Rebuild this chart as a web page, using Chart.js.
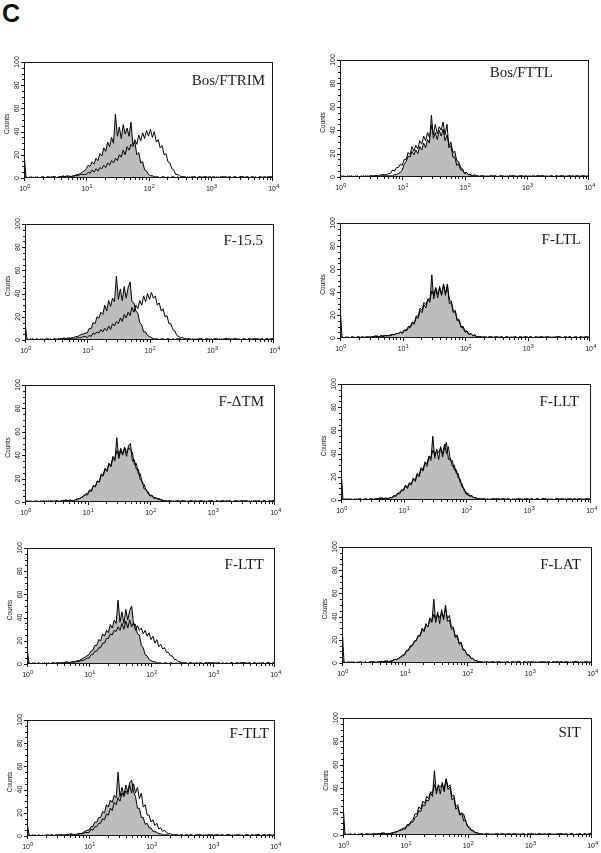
<!DOCTYPE html>
<html>
<head>
<meta charset="utf-8">
<script src="https://cdn.jsdelivr.net/npm/chart.js@4.4.1/dist/chart.umd.min.js"></script>
<style>
  body { margin: 0; background: #fff; width: 601px; height: 853px; position: relative; overflow: hidden; }
  #letter { position: absolute; left: 2px; top: 1px; font: bold 25px/25px "Liberation Sans", Arial, sans-serif; color: #111; }
  canvas { position: absolute; display: block; }
</style>
</head>
<body>
<div id="letter">C</div>
<script>
// 32 channels per decade, from 10^0 to 10^4 (129 channels)
const CH_PER_DECADE = 32;
const N_CH = 129;

const yTicks = [0, 20, 40, 60, 80, 100];
const yMinorStep = 5;
const xDecades = [0, 1, 2, 3, 4];

const titles = ['Bos/FTRIM', 'Bos/FTTL', 'F-15.5', 'F-LTL', 'F-\u0394TM', 'F-LLT', 'F-LTT', 'F-LAT', 'F-TLT', 'SIT'];

// grey filled = control, open line = test
const ctrlFTRIM = [
22,1,0,1,0,0,1,0, 0,1,1,0,1,0,1,1, 1,0,1,1,2,1,1,2, 1,2,2,3,3,4,5,6,
8,11,10,14,12,17,15,21, 19,26,23,31,27,35,30,55, 36,44,34,46,38,43,36,48, 28,31,20,22,13,14,7,6,
3,2,2,1,1,1,0,1, 1,0,1,0,1,1,0,1, 0,1,1,0,1,0,1,1, 1,0,1,1,0,1,1,0,
0,1,1,0,1,0,1,1, 1,0,1,0,1,1,0,1, 1,1,0,1,0,1,1,0, 0,1,0,1,1,0,1,1, 1];
const testFTRIM = [
0,1,0,0,1,0,0,1, 0,0,1,0,1,1,0,1, 1,0,1,1,1,1,2,1, 1,1,2,2,2,3,3,3,
3,5,4,7,5,8,6,9, 8,11,9,13,11,15,13,17, 15,20,18,24,20,27,24,29, 27,33,29,37,32,39,34,41,
36,42,35,40,31,33,26,28, 20,21,14,13,8,7,3,3, 2,1,1,1,0,1,0,0, 1,0,1,0,1,1,0,1,
1,0,0,1,0,1,1,0, 0,1,1,0,1,0,0,1, 1,0,1,1,0,1,0,1, 0,1,1,0,0,1,1,0, 1];

const ctrlFTTL = [
1,0,1,0,0,1,0,0, 0,1,0,0,1,0,1,0, 1,0,1,1,0,1,1,1, 1,1,1,1,2,2,3,4,
6,11,13,18,17,22,19,23, 20,26,23,29,25,32,29,53, 33,38,32,40,35,41,31,36, 27,30,21,22,14,13,8,7,
3,4,2,2,1,1,1,0, 1,1,0,1,0,1,1,0, 1,0,1,1,0,1,0,1, 1,1,0,1,0,1,1,0,
0,1,0,1,1,0,1,1, 1,0,1,0,1,1,0,1, 1,0,1,1,0,1,1,0, 0,1,1,0,1,1,0,1, 1];
const testFTTL = [
0,1,0,0,1,0,1,0, 1,0,0,1,0,1,0,1, 1,1,1,1,1,2,2,2, 2,3,3,6,5,8,8,11,
10,15,15,21,19,26,22,27, 24,31,28,35,31,38,34,44, 36,45,37,43,40,47,36,45, 25,27,17,17,10,11,6,6,
3,4,2,2,1,2,1,1, 0,1,1,0,1,0,1,1, 1,0,0,1,1,0,1,0, 0,1,1,0,1,1,0,1,
1,0,1,0,0,1,1,0, 1,1,0,1,0,1,0,1, 0,1,1,0,1,0,1,1, 1,0,1,1,0,1,1,0, 1];

const ctrl155 = [
15,1,0,0,1,0,1,0, 1,0,0,1,0,1,0,1, 0,1,1,1,2,1,2,1, 2,2,3,3,4,5,5,6,
6,10,10,15,14,20,19,24, 22,30,25,34,29,36,33,55, 35,44,34,46,36,45,50,33, 32,25,23,15,13,7,7,4,
3,2,1,1,1,0,1,1, 0,1,1,0,1,0,1,1, 1,0,1,0,1,1,0,1, 0,1,1,0,0,1,1,0,
1,0,1,1,0,1,0,1, 1,1,0,1,1,0,1,0, 0,1,0,1,1,0,1,1, 1,0,1,0,1,1,0,1, 1];
const test155 = [
0,1,0,1,0,0,1,0, 0,1,0,1,1,0,0,1, 1,0,1,1,1,1,1,2, 1,1,1,2,2,2,3,3,
2,4,3,6,5,7,6,9, 7,10,8,12,9,14,12,16, 14,19,16,22,19,24,21,28, 24,30,27,34,30,38,33,40,
35,41,36,38,30,32,25,27, 20,21,14,14,9,8,4,3, 2,2,1,1,1,0,1,0, 1,0,1,1,0,1,0,1,
0,1,1,0,1,0,1,1, 1,0,1,0,1,1,0,0, 1,1,0,1,0,1,1,0, 0,1,1,0,1,0,1,1, 1];

const ctrlLTL = [
28,1,0,1,0,0,1,0, 0,1,0,1,1,0,1,1, 1,1,1,2,1,2,2,2, 2,2,3,3,3,4,4,5,
4,7,6,9,9,13,12,18, 17,24,22,29,26,34,31,55, 34,43,35,45,37,46,39,47, 30,31,22,23,15,15,9,9,
5,6,3,4,2,2,1,1, 1,1,1,0,1,1,0,1, 1,0,1,1,0,1,1,0, 1,0,1,0,1,1,0,1,
0,1,1,0,1,0,1,1, 1,0,1,1,0,1,0,1, 1,1,0,1,0,1,1,0, 0,1,0,1,1,0,1,1, 1];
const testLTL = [
0,1,0,0,1,0,1,1, 0,1,1,0,0,1,1,0, 1,1,2,1,1,2,1,2, 2,2,2,3,3,4,4,5,
5,7,7,10,10,14,13,19, 19,26,24,31,29,34,33,41, 37,44,38,43,38,47,37,45, 33,32,23,24,16,16,10,10,
6,6,3,4,2,3,1,1, 1,0,1,1,0,1,1,0, 1,1,0,1,0,1,0,1, 0,1,1,0,1,0,1,1,
1,0,1,0,1,1,0,1, 0,1,1,0,1,0,1,1, 1,0,0,1,1,0,1,0, 1,1,0,1,0,1,1,0, 1];

const ctrlDTM = [
2,0,1,0,0,1,0,0, 1,0,0,1,0,1,1,0, 1,1,0,1,1,1,1,2, 1,1,2,2,3,4,5,6,
6,10,10,14,13,18,17,23, 22,28,26,33,30,38,35,55, 37,44,40,46,39,48,50,35, 36,28,28,19,18,11,11,7,
6,5,4,3,3,2,2,1, 1,1,1,0,1,0,1,1, 0,1,1,0,1,1,0,1, 1,0,1,1,0,1,0,1,
1,0,1,0,1,1,1,0, 0,1,0,1,1,0,1,1, 1,1,0,1,0,1,1,0, 1,0,1,1,0,1,1,1, 1];
const testDTM = [
0,1,0,1,0,0,1,0, 0,1,1,0,1,0,0,1, 1,0,1,1,1,2,1,1, 1,1,2,3,3,4,5,7,
7,10,9,14,13,18,17,24, 23,29,27,33,31,39,37,44, 40,46,41,47,42,46,45,42, 32,33,24,24,16,15,10,9,
5,6,3,4,2,3,1,1, 1,0,1,1,0,1,1,0, 1,1,0,1,0,1,1,0, 0,1,1,0,1,0,1,1,
1,0,1,1,0,1,0,1, 1,1,0,0,1,1,0,1, 0,1,1,0,1,0,1,1, 1,0,1,1,0,1,0,1, 1];

const ctrlLLT = [
28,0,1,0,1,0,0,1, 0,1,1,0,0,1,0,1, 1,0,1,1,1,2,1,1, 1,2,2,4,3,6,5,9,
8,12,10,14,13,18,16,22, 20,27,25,32,29,37,34,55, 36,44,35,46,37,45,50,35, 36,29,30,23,23,15,14,8,
7,4,4,3,2,2,1,1, 1,1,0,1,0,1,1,0, 1,0,1,1,0,1,1,0, 0,1,0,1,1,0,1,1,
1,0,1,0,1,1,0,1, 1,1,0,1,0,0,1,1, 0,1,1,0,1,1,0,1, 1,0,1,1,0,1,1,0, 1];
const testLLT = [
0,1,0,1,0,1,0,0, 1,0,1,0,1,1,0,1, 0,1,1,1,2,1,1,2, 1,2,2,3,4,5,7,8,
9,13,11,15,14,19,17,23, 21,28,26,33,31,38,36,43, 39,43,41,45,40,48,40,46, 34,34,26,26,19,18,11,10,
5,6,3,4,2,2,1,1, 0,1,1,0,1,0,1,1, 1,1,0,1,1,0,1,0, 1,0,1,1,0,1,0,1,
0,1,1,0,1,1,0,1, 1,0,1,0,1,0,1,1, 1,1,0,1,0,1,1,0, 0,1,1,0,1,0,1,1, 1];

const ctrlLTT = [
15,1,0,0,1,0,1,0, 0,1,0,1,0,1,1,0, 1,1,1,1,2,1,1,2, 2,2,3,3,4,5,6,7,
8,11,12,16,16,21,20,26, 24,29,27,34,31,38,35,55, 36,45,35,47,38,46,50,34, 34,26,25,16,14,8,7,4,
3,2,2,1,1,1,0,1, 1,0,1,1,0,1,0,1, 0,1,1,0,1,1,0,1, 1,0,1,0,1,1,1,0,
1,1,0,1,0,1,0,1, 0,1,1,0,1,1,0,1, 1,0,1,1,0,1,1,0, 1,0,1,0,1,1,0,1, 1];
const testLTT = [
0,1,0,1,0,0,1,0, 1,0,1,0,0,1,0,1, 1,0,1,1,1,2,1,1, 1,2,2,2,3,3,4,5,
5,8,8,11,11,14,14,18, 18,22,22,26,25,29,28,32, 29,35,30,37,31,38,32,36, 29,33,29,31,26,29,24,27,
21,24,18,21,15,17,13,14, 10,10,7,7,4,4,2,2, 1,1,1,0,1,0,1,0, 0,1,1,0,1,0,1,1,
1,0,1,1,0,1,0,1, 0,1,1,0,1,0,1,1, 1,1,0,1,0,1,0,1, 0,1,1,0,1,1,0,1, 1];

const ctrlLAT = [
33,1,0,1,0,1,0,0, 1,0,1,0,1,0,1,1, 1,1,0,1,1,1,2,1, 1,2,2,3,3,4,5,6,
7,11,11,15,15,19,19,24, 23,30,27,33,31,38,35,55, 35,44,34,46,37,50,36,37, 29,30,22,23,16,17,11,11,
7,7,4,4,2,2,1,1, 1,0,1,1,0,1,1,0, 1,1,0,1,0,1,0,1, 1,0,1,1,0,1,1,0,
0,1,1,0,1,0,1,1, 1,0,1,0,1,1,1,0, 1,1,0,1,1,0,1,1, 1,0,1,0,1,1,0,1, 1];
const testLAT = [
0,1,0,0,1,0,1,0, 0,1,1,0,1,0,0,1, 1,0,1,1,1,1,1,2, 1,1,2,3,3,4,5,7,
7,10,11,14,15,18,20,23, 24,29,28,34,31,39,36,42, 37,42,39,43,39,47,38,41, 31,31,23,24,17,18,12,11,
7,7,4,4,2,2,1,1, 0,1,1,0,1,1,0,1, 1,0,1,0,1,1,0,1, 0,1,1,1,0,1,0,1,
1,1,0,1,0,1,1,0, 0,1,1,0,1,0,1,1, 1,0,1,1,0,1,0,1, 1,1,0,1,0,1,1,0, 1];

const ctrlTLT = [
13,1,0,1,0,0,1,0, 0,0,1,1,0,1,0,1, 1,1,1,0,1,1,1,2, 1,1,2,2,2,3,4,5,
5,8,8,12,12,16,16,21, 20,27,25,31,29,35,33,55, 34,42,35,44,38,46,48,38, 34,24,24,16,16,10,11,7,
7,4,4,3,2,2,1,1, 1,1,0,1,0,1,1,0, 1,0,1,1,0,1,0,1, 1,1,0,1,0,1,1,0,
0,1,1,0,1,1,0,1, 1,0,1,0,1,1,0,1, 0,1,1,0,1,0,1,1, 1,0,1,1,0,1,1,0, 1];
const testTLT = [
0,1,0,0,1,0,1,0, 1,0,1,0,1,1,0,1, 0,1,1,1,1,1,2,1, 1,1,1,2,2,2,3,3,
3,6,5,8,8,11,11,15, 14,19,18,24,22,29,27,33, 30,37,34,39,36,44,37,45, 37,42,32,37,25,27,18,18,
12,14,9,11,6,7,4,5, 3,2,2,1,1,1,0,1, 1,0,1,0,1,1,0,1, 0,1,1,0,1,0,1,1,
1,0,1,1,0,1,0,1, 1,1,0,1,0,1,1,0, 0,1,1,0,1,1,0,1, 1,0,1,0,1,1,0,1, 1];

const ctrlSIT = [
27,1,0,0,1,0,1,0, 1,0,1,0,1,1,0,1, 1,1,1,1,2,1,1,1, 1,2,2,3,3,4,4,5,
5,8,8,11,11,15,16,21, 20,26,25,30,29,36,33,55, 35,43,35,45,37,48,39,41, 30,32,22,24,17,18,18,12,
8,5,4,3,2,2,1,1, 0,1,1,0,1,0,1,1, 1,0,1,1,0,1,1,0, 1,1,0,1,0,1,0,1,
0,1,1,0,1,1,0,1, 1,0,1,1,0,1,0,1, 1,1,0,1,0,1,1,0, 0,1,1,0,1,0,1,1, 1];
const testSIT = [
0,1,0,1,0,0,1,0, 0,1,1,0,1,0,1,0, 1,0,1,1,1,2,1,1, 1,1,2,2,3,4,5,6,
6,9,9,12,13,18,18,24, 22,29,27,33,31,37,36,43, 38,42,41,43,40,48,41,43, 33,34,24,26,18,19,12,13,
7,7,4,4,2,2,1,1, 1,0,1,1,0,1,0,1, 0,1,1,0,1,1,0,1, 1,0,1,0,1,1,0,1,
1,1,0,1,0,1,1,0, 0,1,1,0,1,0,1,1, 1,0,1,1,0,1,1,0, 1,0,1,0,1,1,0,1, 1];

const ctrlSeries = [ctrlFTRIM, ctrlFTTL, ctrl155, ctrlLTL, ctrlDTM, ctrlLLT, ctrlLTT, ctrlLAT, ctrlTLT, ctrlSIT];
const testSeries = [testFTRIM, testFTTL, test155, testLTL, testDTM, testLLT, testLTT, testLAT, testTLT, testSIT];

// layout: plot box [left, top, width, height] and label [offset from right, baseline from top]
const boxes = [
  [24, 62, 249, 116], [340, 60, 249, 117],
  [25, 224, 249, 116], [340, 223, 250, 115],
  [25, 385, 250, 117], [341, 384, 250, 116],
  [27, 548, 248, 116], [342, 547, 250, 116],
  [27, 720, 248, 116], [343, 718, 249, 117]
];
const labelAt = [[8, 23], [36, 17], [11, 21], [9, 21], [11, 21], [12, 22], [11, 21], [11, 22], [6, 18], [11, 19]];
const PAD = { left: 26, top: 6, right: 8, bottom: 16 };

const SANS = '"Liberation Sans", Arial, sans-serif';
const SERIF = '"Liberation Serif", "Times New Roman", serif';

function toPoints(vals, name) {
  if (vals.length !== N_CH) throw new Error(name + ' has ' + vals.length + ' channels');
  return vals.map((v, i) => ({ x: Math.pow(10, i / CH_PER_DECADE), y: v }));
}

// frame, ticks, rotated y labels, 10^n labels, panel name
const facsAxes = {
  id: 'facsAxes',
  afterDraw(chart, args, opts) {
    const { ctx, chartArea: a } = chart;
    const xs = chart.scales.x, ys = chart.scales.y;
    ctx.save();
    ctx.strokeStyle = '#161616';
    ctx.fillStyle = '#161616';
    ctx.lineWidth = 1;
    ctx.strokeRect(a.left + 0.5, a.top + 0.5, a.right - a.left - 1, a.bottom - a.top - 1);

    ctx.beginPath();
    for (let v = 0; v <= 100; v += yMinorStep) {
      const py = Math.round(ys.getPixelForValue(v)) + 0.5;
      const len = yTicks.includes(v) ? 3 : 2;
      ctx.moveTo(a.left - len, py);
      ctx.lineTo(a.left, py);
    }
    for (let d = 0; d < xDecades.length - 1; d++) {
      for (let m = 1; m < 10; m++) {
        const px = Math.round(xs.getPixelForValue(m * Math.pow(10, xDecades[d]))) + 0.5;
        ctx.moveTo(px, a.bottom);
        ctx.lineTo(px, a.bottom + (m === 1 ? 3 : 2));
      }
    }
    const pxEnd = Math.round(xs.getPixelForValue(Math.pow(10, xDecades[xDecades.length - 1]))) - 0.5;
    ctx.moveTo(pxEnd, a.bottom);
    ctx.lineTo(pxEnd, a.bottom + 3);
    ctx.stroke();

    // y tick labels, rotated
    ctx.font = '7px ' + SANS;
    ctx.textAlign = 'center';
    ctx.textBaseline = 'alphabetic';
    yTicks.forEach(v => {
      ctx.save();
      ctx.translate(a.left - 5, ys.getPixelForValue(v));
      ctx.rotate(-Math.PI / 2);
      ctx.fillText(String(v), 0, 0);
      ctx.restore();
    });
    ctx.save();
    ctx.font = '6.5px ' + SANS;
    ctx.translate(a.left - 15, (a.top + a.bottom) / 2 + 4);
    ctx.rotate(-Math.PI / 2);
    ctx.fillText('Counts', 0, 0);
    ctx.restore();

    // x tick labels 10^n
    xDecades.forEach(d => {
      const px = xs.getPixelForValue(Math.pow(10, d));
      ctx.font = '7px ' + SANS;
      ctx.textAlign = 'right';
      ctx.fillText('10', px + 3, a.bottom + 13);
      ctx.font = '5.5px ' + SANS;
      ctx.textAlign = 'left';
      ctx.fillText(String(d), px + 3.2, a.bottom + 9.5);
    });

    // panel name
    ctx.font = '15px ' + SERIF;
    ctx.textAlign = 'right';
    ctx.fillStyle = '#1a1a1a';
    ctx.fillText(opts.title, a.right - opts.labelAt[0], a.top + opts.labelAt[1]);
    ctx.restore();
  }
};

titles.forEach((title, i) => {
  const [left, top, w, h] = boxes[i];
  const canvas = document.createElement('canvas');
  canvas.width = w + PAD.left + PAD.right;
  canvas.height = h + PAD.top + PAD.bottom;
  canvas.style.left = (left - PAD.left) + 'px';
  canvas.style.top = (top - PAD.top) + 'px';
  document.body.appendChild(canvas);

  new Chart(canvas.getContext('2d'), {
    type: 'line',
    data: {
      datasets: [
        {
          label: 'control',
          data: toPoints(ctrlSeries[i], title + ' control'),
          borderColor: '#000',
          backgroundColor: '#bdbdbd',
          borderWidth: 1,
          fill: 'origin',
          pointRadius: 0,
          tension: 0,
          order: 2
        },
        {
          label: 'test',
          data: toPoints(testSeries[i], title + ' test'),
          borderColor: '#000',
          borderWidth: 1,
          fill: false,
          pointRadius: 0,
          tension: 0,
          order: 1
        }
      ]
    },
    options: {
      responsive: false,
      animation: false,
      events: [],
      layout: { padding: PAD },
      plugins: {
        legend: { display: false },
        tooltip: { enabled: false },
        facsAxes: { title: title, labelAt: labelAt[i] }
      },
      scales: {
        x: { type: 'logarithmic', min: 1, max: 10000, display: false },
        y: { type: 'linear', min: 0, max: 100, display: false }
      }
    },
    plugins: [facsAxes]
  });
});
</script>
</body>
</html>
